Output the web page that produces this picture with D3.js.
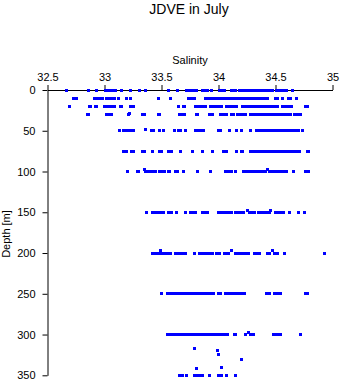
<!DOCTYPE html>
<html>
<head>
<meta charset="utf-8">
<script src="https://cdn.jsdelivr.net/npm/d3@7"></script>
<style>
  html, body { margin: 0; padding: 0; background: #fff; }
  svg { display: block; font-family: "Liberation Sans", Arial, sans-serif; }
</style>
</head>
<body>
<svg id="chart" width="341" height="384"></svg>
<script>
// Salinity profiles by nominal sampling depth (m)
const levelDepths = [0, 10, 20, 30, 50, 75, 100, 150, 200, 250, 300, 350];

const sal0 = [32.67, 32.86, 32.93, 33.01, 33.03, 33.05, 33.07, 33.08, 33.10, 33.15, 33.23, 33.31, 33.36,
  33.56, 33.64, 33.72, 33.74, 33.76, 33.78, 33.79, 33.81, 33.86, 33.88, 33.90, 33.94, 34.01, 34.03, 34.05,
  34.11, 34.13, 34.15, 34.18, 34.20, 34.22, 34.23, 34.25, 34.27, 34.29, 34.30, 34.32, 34.34, 34.36, 34.38,
  34.40, 34.41, 34.43, 34.45, 34.47, 34.51, 34.53, 34.55, 34.57, 34.60, 34.65];

const sal10 = [32.73, 32.75, 32.91, 32.93, 32.94, 32.96, 32.98, 33.02, 33.04, 33.06, 33.08, 33.09, 33.12,
  33.19, 33.23, 33.47, 33.58, 33.74, 33.76, 33.78, 33.79, 33.89, 33.91, 33.93, 33.94, 33.96, 33.98, 34.00,
  34.01, 34.03, 34.05, 34.07, 34.10, 34.11, 34.13, 34.15, 34.17, 34.19, 34.21, 34.22, 34.24, 34.26, 34.28,
  34.29, 34.31, 34.33, 34.35, 34.36, 34.38, 34.40, 34.42, 34.43, 34.50, 34.52, 34.56, 34.61, 34.63, 34.68];

const sal20 = [32.69, 32.87, 32.88, 32.92, 32.93, 33.00, 33.01, 33.03, 33.05, 33.07, 33.08, 33.09, 33.14,
  33.15, 33.23, 33.25, 33.65, 33.69, 33.70, 33.80, 33.82, 33.84, 33.87, 33.89, 33.93, 33.94, 33.96, 33.98,
  34.00, 34.01, 34.03, 34.07, 34.08, 34.10, 34.12, 34.15, 34.16, 34.21, 34.22, 34.24, 34.26, 34.28, 34.29,
  34.31, 34.33, 34.35, 34.36, 34.38, 34.40, 34.42, 34.43, 34.45, 34.47, 34.49, 34.50, 34.52, 34.56, 34.58,
  34.60, 34.62, 34.64, 34.76, 34.78];

const sal30 = [32.85, 32.86, 33.02, 33.04, 33.06, 33.21, 33.33, 33.35, 33.47, 33.48, 33.66, 33.68, 33.70,
  33.81, 33.82, 33.92, 33.93, 33.95, 34.02, 34.04, 34.06, 34.07, 34.11, 34.13, 34.17, 34.19, 34.22, 34.24,
  34.28, 34.29, 34.31, 34.33, 34.35, 34.38, 34.40, 34.42, 34.43, 34.45, 34.47, 34.49, 34.50, 34.52, 34.54,
  34.56, 34.57, 34.59, 34.61, 34.63, 34.67, 34.69, 34.71, 34.72];

const sal50 = [33.13, 33.17, 33.19, 33.21, 33.23, 33.25, 33.41, 33.43, 33.48, 33.52, 33.61, 33.65, 33.67,
  33.71, 33.80, 33.82, 33.84, 33.87, 34.00, 34.02, 34.10, 34.16, 34.20, 34.28, 34.33, 34.35, 34.36, 34.38,
  34.40, 34.42, 34.43, 34.45, 34.47, 34.49, 34.50, 34.52, 34.54, 34.56, 34.57, 34.59, 34.61, 34.63, 34.64,
  34.66, 34.68, 34.70, 34.74];

const sal75 = [33.17, 33.19, 33.24, 33.25, 33.33, 33.35, 33.42, 33.48, 33.50, 33.56, 33.57, 33.59, 33.67,
  33.77, 33.86, 33.95, 34.04, 34.06, 34.07, 34.16, 34.20, 34.21, 34.28, 34.29, 34.31, 34.33, 34.35, 34.36,
  34.38, 34.40, 34.42, 34.43, 34.45, 34.47, 34.49, 34.50, 34.52, 34.54, 34.56, 34.57, 34.59, 34.61, 34.63,
  34.64, 34.66, 34.68, 34.70, 34.71, 34.78, 34.79];

const sal100 = [33.20, 33.29, 33.30, 33.36, 33.38, 33.40, 33.42, 33.43, 33.45, 33.48, 33.50, 33.51, 33.53,
  33.56, 33.57, 33.62, 33.64, 33.69, 33.82, 33.93, 34.06, 34.07, 34.09, 34.11, 34.15, 34.22, 34.23, 34.25,
  34.27, 34.29, 34.30, 34.32, 34.34, 34.36, 34.38, 34.39, 34.41, 34.45, 34.46, 34.48, 34.50, 34.52, 34.53,
  34.55, 34.57, 34.59, 34.60, 34.66, 34.76, 34.78, 34.79];

const sal150 = [33.37, 33.42, 33.43, 33.45, 33.47, 33.49, 33.50, 33.52, 33.56, 33.57, 33.59, 33.63, 33.71,
  33.75, 33.77, 33.80, 33.86, 33.88, 33.90, 34.00, 34.02, 34.04, 34.06, 34.07, 34.09, 34.11, 34.15, 34.17,
  34.19, 34.21, 34.22, 34.27, 34.28, 34.30, 34.32, 34.35, 34.36, 34.38, 34.40, 34.42, 34.43, 34.45, 34.50,
  34.53, 34.55, 34.57, 34.62, 34.70, 34.75];

const sal200 = [33.42, 33.45, 33.47, 33.50, 33.52, 33.54, 33.57, 33.58, 33.62, 33.65, 33.67, 33.69, 33.71,
  33.79, 33.83, 33.85, 33.86, 33.88, 33.90, 33.92, 33.93, 33.95, 33.98, 34.01, 34.05, 34.07, 34.09, 34.15,
  34.17, 34.19, 34.21, 34.22, 34.24, 34.26, 34.32, 34.34, 34.36, 34.43, 34.45, 34.49, 34.50, 34.52, 34.58,
  34.93];

const sal250 = [33.50, 33.55, 33.57, 33.58, 33.60, 33.62, 33.64, 33.66, 33.67, 33.69, 33.71, 33.73, 33.74,
  33.76, 33.78, 33.80, 33.82, 33.84, 33.86, 33.87, 33.89, 33.91, 33.93, 33.94, 33.96, 34.00, 34.02, 34.06,
  34.07, 34.09, 34.11, 34.13, 34.15, 34.16, 34.18, 34.20, 34.22, 34.23, 34.42, 34.43, 34.45, 34.49, 34.50,
  34.52, 34.54, 34.76, 34.78];

const sal300 = [33.55, 33.57, 33.58, 33.60, 33.62, 33.64, 33.66, 33.67, 33.69, 33.71, 33.73, 33.74, 33.76,
  33.78, 33.80, 33.82, 33.83, 33.85, 33.87, 33.89, 33.90, 33.92, 33.94, 33.96, 33.97, 33.99, 34.01, 34.03,
  34.04, 34.07, 34.08, 34.14, 34.15, 34.24, 34.28, 34.29, 34.31, 34.48, 34.50, 34.52, 34.54, 34.72];

const sal350 = [33.66, 33.68, 33.72, 33.79, 33.80, 33.82, 33.84, 33.86, 33.92, 34.00, 34.01, 34.03, 34.07, 34.15];

const levelSalinity = [sal0, sal10, sal20, sal30, sal50, sal75, sal100, sal150, sal200, sal250, sal300, sal350];

// Casts that sampled slightly off the standard levels
const offDepth = [29, 48, 98, 98, 148, 148, 197, 197, 197, 298, 317, 319, 325, 331, 340, 342];
const offSal   = [33.22, 33.36, 33.35, 34.43, 34.25, 34.46, 33.49, 34.11, 34.47, 34.26, 33.79, 33.99, 34.00, 34.20, 34.03, 33.81];

// Axis ticks
const salTicks = [32.5, 33, 33.5, 34, 34.5, 35];
const depthTicks = [0, 50, 100, 150, 200, 250, 300, 350];

const samples = [];
levelDepths.forEach((d, i) => levelSalinity[i].forEach(s => samples.push({ depth: d, sal: s })));
offDepth.forEach((d, i) => samples.push({ depth: d, sal: offSal[i] }));

const svg = d3.select("#chart");
const margin = { top: 90, left: 47.5 };
const plotW = 285, plotH = 285.3;

const x = d3.scaleLinear().domain([32.5, 35]).range([margin.left, margin.left + plotW]);
const y = d3.scaleLinear().domain([0, 350]).range([margin.top, margin.top + plotH]);

// Top salinity axis
const xAxis = svg.append("g")
  .attr("transform", `translate(0,${margin.top})`)
  .call(d3.axisTop(x).tickValues(salTicks).tickFormat(d3.format("")).tickSize(5).tickSizeOuter(0).tickPadding(4));

// Left depth axis
const yAxis = svg.append("g")
  .attr("transform", `translate(${margin.left},0)`)
  .call(d3.axisLeft(y).tickValues(depthTicks).tickFormat(d3.format("")).tickSize(5).tickSizeOuter(0).tickPadding(7));

[xAxis, yAxis].forEach(g => {
  g.selectAll("path, line").attr("stroke", "#000").attr("stroke-width", 1);
  g.selectAll("text").attr("fill", "#000").attr("font-size", 11)
    .attr("font-family", "'Liberation Sans', Arial, sans-serif");
});

// Points, drawn over the axes
svg.append("g")
  .selectAll("rect")
  .data(samples)
  .join("rect")
  .attr("x", d => x(d.sal) - 1.5)
  .attr("y", d => y(d.depth) - 1.5)
  .attr("width", 3)
  .attr("height", 3)
  .attr("fill", "#0000ff")
  .attr("shape-rendering", "crispEdges");

// Titles
svg.append("text")
  .attr("x", 189).attr("y", 14)
  .attr("text-anchor", "middle")
  .attr("font-size", 14)
  .text("JDVE in July");

svg.append("text")
  .attr("x", 190).attr("y", 64)
  .attr("text-anchor", "middle")
  .attr("font-size", 11)
  .text("Salinity");

svg.append("text")
  .attr("transform", "translate(10,234) rotate(-90)")
  .attr("text-anchor", "middle")
  .attr("font-size", 11)
  .text("Depth [m]");
</script>
</body>
</html>
